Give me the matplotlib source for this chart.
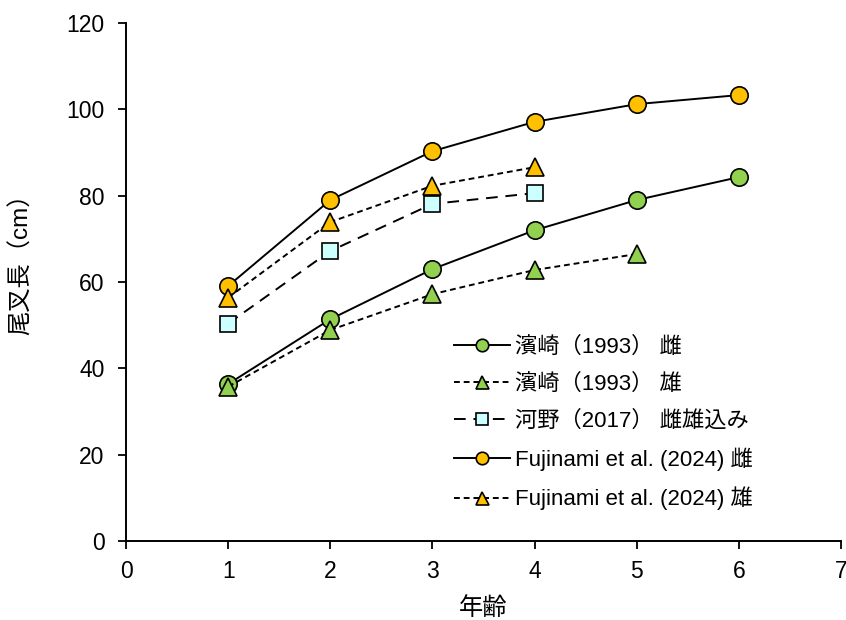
import matplotlib
matplotlib.use("Agg")
import matplotlib.pyplot as plt

plt.rcParams['font.family'] = ['Liberation Sans', 'Noto Sans CJK JP', 'DejaVu Sans']

# データ
ages_hf = [1, 2, 3, 4, 5, 6]
hamasaki_f = [36.4, 51.4, 63.0, 72.0, 79.0, 84.3]
ages_hm = [1, 2, 3, 4, 5]
hamasaki_m = [35.8, 48.9, 57.2, 62.8, 66.5]
ages_kw = [1, 2, 3, 4]
kawano = [50.4, 67.2, 78.1, 80.6]
ages_ff = [1, 2, 3, 4, 5, 6]
fujinami_f = [59.1, 79.0, 90.3, 97.1, 101.2, 103.3]
ages_fm = [1, 2, 3, 4]
fujinami_m = [56.4, 73.9, 82.3, 86.6]

labels = ['濱崎（1993） 雌', '濱崎（1993） 雄', '河野（2017） 雌雄込み',
          'Fujinami et al. (2024) 雌', 'Fujinami et al. (2024) 雄']

green = '#92D050'
orange = '#FFC000'
cyan = '#CCFFFF'

fig = plt.figure(figsize=(8.46, 6.2), dpi=100)
ax = fig.add_axes([0.149, 0.127, 0.845, 0.836])

ax.plot(ages_hf, hamasaki_f, '-', color='black', lw=1.4, marker='o', ms=12.5,
        mfc=green, mec='black', mew=1.2, label=labels[0])
ax.plot(ages_hm, hamasaki_m, color='black', lw=1.4, ls=(0, (3, 2)), marker='^', ms=13,
        mfc=green, mec='black', mew=1.2, label=labels[1])
ax.plot(ages_kw, kawano, color='black', lw=1.4, ls=(0, (6, 4)), marker='s', ms=11.5,
        mfc=cyan, mec='black', mew=1.2, label=labels[2])
ax.plot(ages_ff, fujinami_f, '-', color='black', lw=1.4, marker='o', ms=12.5,
        mfc=orange, mec='black', mew=1.2, label=labels[3])
ax.plot(ages_fm, fujinami_m, color='black', lw=1.4, ls=(0, (3, 2)), marker='^', ms=13,
        mfc=orange, mec='black', mew=1.2, label=labels[4])

ax.set_xlim(0, 7)
ax.set_ylim(0, 120)
ax.set_xticks(range(0, 8))
ax.set_yticks(range(0, 121, 20))
ax.spines['top'].set_visible(False)
ax.spines['right'].set_visible(False)
ax.spines['left'].set_linewidth(1.4)
ax.spines['bottom'].set_linewidth(1.4)
ax.tick_params(direction='out', length=5.5, width=1.3, labelsize=16.5)
ax.tick_params(axis='x', pad=8)
ax.tick_params(axis='y', pad=10)

ax.set_xlabel('年齢', fontsize=17.5)
ax.set_ylabel('尾叉長（cm）', fontsize=17.5)
ax.xaxis.set_label_coords(0.5, -0.108)
ax.yaxis.set_label_coords(-0.130, 0.546)

ax.legend(loc='lower left', bbox_to_anchor=(0.431, 0.021), frameon=False, fontsize=16,
          markerscale=0.72, handlelength=2.5, labelspacing=0.71, handletextpad=0.25)

fig.savefig('out.png', dpi=100)
